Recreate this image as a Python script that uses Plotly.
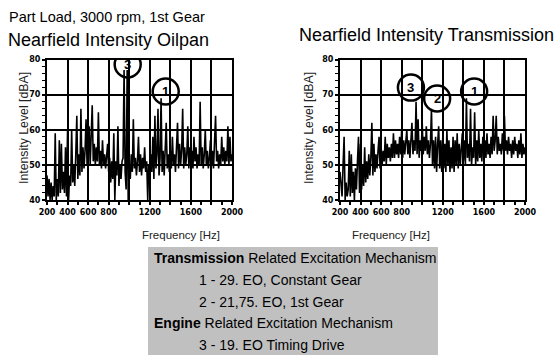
import numpy as np
import plotly.graph_objects as go

# Frequency grid (Hz), 10 Hz steps from 200 to 2000
freq = np.arange(200, 2001, 10)

# Nearfield intensity, oil pan [dBA]
oilpan = [
    47, 41, 46, 40, 45, 40, 44, 41, 59, 40,
    46, 41, 57, 42, 56, 43, 48, 42, 55, 41,
    60, 40, 47, 44, 60, 45, 50, 44, 53, 64,
    46, 53, 47, 66, 48, 55, 49, 54, 63, 50,
    56, 61, 50, 57, 67, 51, 56, 50, 55, 51,
    65, 50, 54, 49, 57, 50, 53, 49, 52, 56,
    48, 52, 45, 51, 46, 59, 40, 51, 47, 61,
    44, 50, 46, 51, 52, 77, 48, 43, 77, 40,
    50, 46, 53, 48, 63, 49, 52, 47, 51, 58,
    48, 53, 47, 52, 49, 55, 48, 51, 40, 50,
    47, 53, 48, 58, 46, 64, 49, 53, 66, 47,
    52, 69, 48, 54, 47, 55, 62, 49, 53, 48,
    54, 49, 58, 50, 53, 48, 55, 62, 49, 56,
    50, 54, 66, 49, 55, 50, 53, 61, 49, 55,
    50, 54, 49, 58, 51, 55, 49, 53, 50, 68,
    50, 55, 49, 53, 60, 50, 54, 49, 52, 57,
    50, 54, 49, 56, 64, 51, 54, 49, 53, 50,
    58, 51, 55, 50, 54, 51, 61, 50, 58, 51,
    53,
]

# Nearfield intensity, transmission [dBA]
transmission = [
    48, 44, 41, 50, 58, 40, 45, 41, 43, 54,
    41, 53, 42, 48, 40, 49, 43, 51, 58, 42,
    56, 43, 50, 44, 55, 45, 51, 46, 53, 47,
    52, 62, 47, 56, 48, 53, 49, 54, 58, 49,
    55, 50, 54, 51, 58, 50, 56, 52, 55, 51,
    56, 52, 59, 52, 57, 53, 56, 52, 58, 53,
    60, 52, 57, 53, 56, 60, 53, 57, 52, 58,
    62, 53, 57, 54, 68, 53, 63, 52, 57, 54,
    62, 53, 58, 54, 61, 53, 57, 52, 56, 66,
    50, 57, 49, 58, 48, 56, 61, 49, 57, 48,
    58, 49, 56, 48, 60, 50, 57, 48, 55, 49,
    58, 48, 57, 50, 59, 49, 56, 50, 55, 59,
    51, 57, 50, 69, 52, 56, 51, 66, 50, 55,
    52, 65, 50, 57, 51, 60, 52, 56, 51, 58,
    53, 57, 52, 59, 53, 56, 52, 58, 53, 64,
    54, 57, 64, 53, 58, 54, 56, 53, 59, 54,
    64, 54, 57, 53, 58, 54, 56, 52, 57, 53,
    58, 54, 56, 52, 57, 53, 59, 52, 56, 53,
    55,
]

x_tickvals = [200, 400, 600, 800, 1000, 1200, 1400, 1600, 1800, 2000]
x_ticktext = ["200", "400", "600", "800", "", "1200", "", "1600", "", "2000"]
y_tickvals = [40, 50, 60, 70, 80]

# Circle markers: (label, frequency, level)
oilpan_marks = [("3", 985, 78.6), ("1", 1355, 70.9)]
trans_marks = [("3", 890, 72.0), ("2", 1145, 68.9), ("1", 1505, 70.9)]

legend_lines = [
    ("<b>Transmission</b> Related Excitation Mechanism", 0),
    ("1 - 29. EO, Constant Gear", 1),
    ("2 - 21,75. EO, 1st Gear", 1),
    ("<b>Engine</b> Related Excitation Mechanism", 0),
    ("3 - 19. EO Timing Drive", 1),
]

W, H = 557, 358

def px(x):
    return x / W

def py(y):
    return 1 - y / H

fig = go.Figure()
fig.add_trace(go.Scatter(x=freq, y=oilpan, mode="lines", line=dict(color="black", width=1.6),
                         xaxis="x", yaxis="y", showlegend=False, hoverinfo="skip"))
fig.add_trace(go.Scatter(x=freq, y=transmission, mode="lines", line=dict(color="black", width=1.6),
                         xaxis="x2", yaxis="y2", showlegend=False, hoverinfo="skip"))

tickfont = dict(family="DejaVu Sans", size=8, color="black", weight="bold")

def xaxis(domain, anchor):
    return dict(domain=domain, anchor=anchor, range=[200, 2000], tickmode="array",
                tickvals=x_tickvals, ticktext=x_ticktext, showgrid=True, gridcolor="black",
                gridwidth=2, showline=True, linecolor="black", linewidth=2, mirror=True,
                ticks="outside", ticklen=3, tickwidth=1.5, tickcolor="black", tickfont=tickfont,
                zeroline=False, automargin=False,
                minor=dict(tickmode="linear", tick0=200, dtick=100, ticks="outside", ticklen=3,
                           tickwidth=1.5, tickcolor="black", showgrid=False))

def yaxis(domain, anchor):
    return dict(domain=domain, anchor=anchor, range=[40, 80], tickmode="array",
                tickvals=y_tickvals, showgrid=True, gridcolor="black", gridwidth=2,
                showline=True, linecolor="black", linewidth=2, mirror=True,
                ticks="outside", ticklen=3, tickwidth=1.5, tickcolor="black", tickfont=tickfont,
                zeroline=False, automargin=False,
                minor=dict(tickmode="linear", tick0=40, dtick=2, ticks="outside", ticklen=3,
                           tickwidth=1.2, tickcolor="black", showgrid=False))

ydom = [py(200), py(59.5)]
fig.update_layout(
    width=W, height=H, margin=dict(l=0, r=0, t=0, b=0, autoexpand=False),
    paper_bgcolor="white", plot_bgcolor="white",
    xaxis=xaxis([px(47), px(232)], "y"),
    yaxis=yaxis(ydom, "x"),
    xaxis2=xaxis([px(340), px(525)], "y2"),
    yaxis2=yaxis(ydom, "x2"),
    font=dict(family="Liberation Sans", color="black"),
)

shapes = []
annotations = []

def add_marks(marks, xr, yr):
    for lab, f, v in marks:
        shapes.append(dict(type="circle", xref=xr, yref=yr, xsizemode="pixel", ysizemode="pixel",
                           xanchor=f, yanchor=v, x0=-13, x1=13, y0=-13, y1=13,
                           line=dict(color="black", width=2.5), fillcolor="rgba(0,0,0,0)",
                           layer="above"))
        annotations.append(dict(text="<b>%s</b>" % lab, x=f, y=v, xref=xr, yref=yr,
                                showarrow=False, font=dict(family="Liberation Sans", size=13,
                                                           color="black")))

add_marks(oilpan_marks, "x", "y")
add_marks(trans_marks, "x2", "y2")

# legend box
shapes.append(dict(type="rect", xref="paper", yref="paper", x0=px(148), x1=px(438),
                   y0=py(355), y1=py(247), fillcolor="#c0c0c0", line=dict(width=0),
                   layer="below"))
line_y = [258, 280, 302, 323, 345]
for (txt, indent), yy in zip(legend_lines, line_y):
    annotations.append(dict(text=txt, x=px(152 if indent == 0 else 197), y=py(yy),
                            xref="paper", yref="paper", xanchor="left", yanchor="middle",
                            showarrow=False, font=dict(size=14, color="black")))

# titles
annotations.append(dict(text="Part Load, 3000 rpm, 1st Gear", x=px(7), y=py(17), xref="paper",
                        yref="paper", xanchor="left", yanchor="middle", showarrow=False,
                        font=dict(size=14.5)))
annotations.append(dict(text="Nearfield Intensity Oilpan", x=px(6), y=py(40), xref="paper",
                        yref="paper", xanchor="left", yanchor="middle", showarrow=False,
                        font=dict(size=18)))
annotations.append(dict(text="Nearfield Intensity Transmission", x=px(297), y=py(35),
                        xref="paper", yref="paper", xanchor="left", yanchor="middle",
                        showarrow=False, font=dict(size=18)))

# axis titles
for xc in (15, 309):
    annotations.append(dict(text="Intensity Level [dBA]", x=px(xc), y=py(128), xref="paper",
                            yref="paper", textangle=-90, showarrow=False,
                            font=dict(size=12.3, color="#222")))
for xc in (140, 432):
    annotations.append(dict(text="Frequency [Hz]", x=px(xc), y=py(235), xref="paper",
                            yref="paper", showarrow=False, font=dict(size=11.5, color="#222")))

fig.update_layout(shapes=shapes, annotations=annotations)
fig.write_html("out.html", config={"displayModeBar": False},
               post_script="document.body.style.margin='0px';")
